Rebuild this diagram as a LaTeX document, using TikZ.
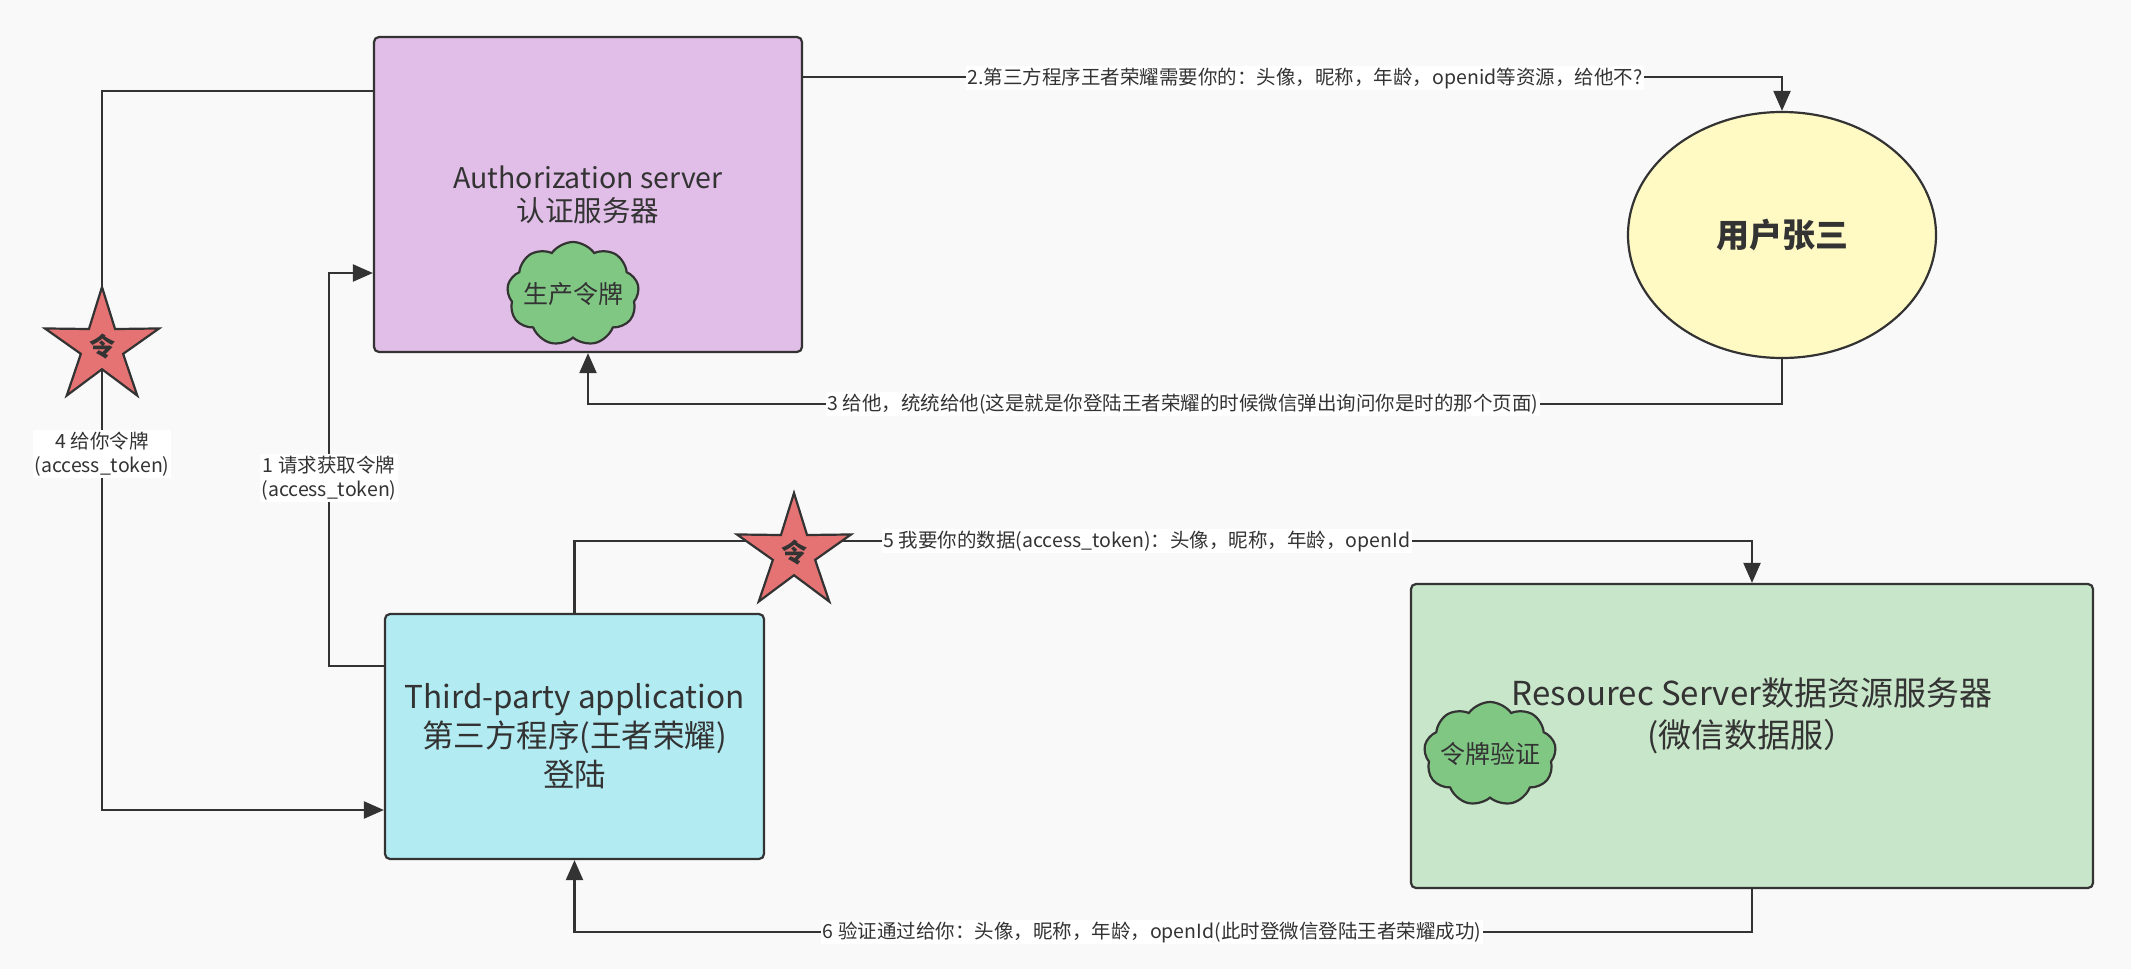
\documentclass[tikz,border=0pt]{standalone}
\usepackage{fontspec}
\setmainfont{Noto Sans CJK SC}
\usetikzlibrary{shapes.geometric,shapes.symbols,arrows.meta}
\definecolor{bgc}{HTML}{F9F9F9}
\definecolor{linec}{HTML}{333333}
\definecolor{txtc}{HTML}{333333}
\definecolor{authc}{HTML}{E1BEE7}
\definecolor{userc}{HTML}{FFF9C4}
\definecolor{tpc}{HTML}{B2EBF2}
\definecolor{resc}{HTML}{C8E6C9}
\definecolor{cloudc}{HTML}{81C784}
\definecolor{starc}{HTML}{E57373}
\tikzset{
  box/.style={draw=linec, line width=2.2pt, rounded corners=5pt, align=center, text=txtc, inner sep=0pt},
  conn/.style={draw=linec, line width=2.2pt, -{Triangle[length=20pt,width=17pt]}},
  lab/.style={fill=white, text=txtc, font=\fontsize{19.5}{24}\selectfont, inner sep=1.5pt, align=center},
  tokstar/.style={star, star points=5, star point ratio=2.7, minimum size=120pt, inner sep=0pt,
     fill=starc, draw=linec, line width=2.2pt, text=txtc, font=\bfseries\fontsize{26}{26}\selectfont},
  puff/.style={cloud, cloud puffs=9, cloud puff arc=110, cloud ignores aspect, minimum width=132pt, minimum height=104pt,
     inner sep=0pt, fill=cloudc, draw=linec, line width=2.2pt},
  pufftext/.style={text=txtc, inner sep=0pt, font=\fontsize{25}{28}\selectfont}
}
\begin{document}
\begin{tikzpicture}[x=1pt,y=-1pt]
\fill[bgc] (0,0) rectangle (2131,969);
\useasboundingbox (0,0) rectangle (2131,969);

% main nodes
\node[box, fill=authc, minimum width=428pt, minimum height=315pt,
      font=\fontsize{28.5}{33}\selectfont] (a) at (588,194.5) {Authorization server\\认证服务器};
\node[puff] (c1) at (573,294) {};
\node[pufftext] (c1t) at (c1.center) {生产令牌};
\node[ellipse, draw=linec, line width=2.2pt, fill=userc, minimum width=308pt, minimum height=246pt,
      inner sep=0pt, text=txtc, font=\bfseries\fontsize{33}{36}\selectfont] (u) at (1782,235) {用户张三};
\node[box, fill=tpc, minimum width=379pt, minimum height=245pt,
      font=\fontsize{31.5}{39}\selectfont] (tp) at (574.5,736.5) {Third-party application\\第三方程序(王者荣耀)\\登陆};
\node[box, fill=resc, minimum width=682pt, minimum height=304pt] (r) at (1752,736) {};
\node[align=center, text=txtc, font=\fontsize{33}{42}\selectfont, inner sep=0pt] (rt) at (1752,716)
      {Resourec Server数据资源服务器\\(微信数据服）};
\node[puff] (c2) at (1490,754) {};
\node[pufftext] (c2t) at (c2.center) {令牌验证};

% label positions
\node[lab] (l1) at (329,478) {1 请求获取令牌\\(access\_token)};
\node[lab] (l2) at (1305,78) {2.第三方程序王者荣耀需要你的：头像，昵称，年龄，openid等资源，给他不?};
\node[lab] (l3) at (1183,404) {3 给他，统统给他(这是就是你登陆王者荣耀的时候微信弹出询问你是时的那个页面)};
\node[lab] (l4) at (102,454) {4 给你令牌\\(access\_token)};
\node[lab] (l5) at (1147,541) {5 我要你的数据(access\_token)：头像，昵称，年龄，openId};
\node[lab] (l6) at (1152,932) {6 验证通过给你：头像，昵称，年龄，openId(此时登微信登陆王者荣耀成功)};

% connectors
\draw[conn] ([yshift=70.5pt]tp.west) -| (l1.center) |- ([yshift=-78.5pt]a.west);
\draw[conn] ([yshift=117.5pt]a.east) -| (u.north);
\draw[conn] (u.south) |- (l3.center) -| (a.south);
\draw[conn] ([yshift=103.5pt]a.west) -| (l4.center) |- ([yshift=-73.5pt]tp.west);
\draw[conn] (tp.north) |- (l5.center) -| (r.north);
\draw[conn] (r.south) |- (l6.center) -| (tp.south);

% labels redrawn on top of connectors
\node[lab] at (l1) {1 请求获取令牌\\(access\_token)};
\node[lab] at (l2) {2.第三方程序王者荣耀需要你的：头像，昵称，年龄，openid等资源，给他不?};
\node[lab] at (l3) {3 给他，统统给他(这是就是你登陆王者荣耀的时候微信弹出询问你是时的那个页面)};
\node[lab] at (l4) {4 给你令牌\\(access\_token)};
\node[lab] at (l5) {5 我要你的数据(access\_token)：头像，昵称，年龄，openId};
\node[lab] at (l6) {6 验证通过给你：头像，昵称，年龄，openId(此时登微信登陆王者荣耀成功)};

% token stars on top
\node[tokstar] (s1) at (102,347) {令};
\node[tokstar] (s2) at (794,553) {令};
\end{tikzpicture}
\end{document}
